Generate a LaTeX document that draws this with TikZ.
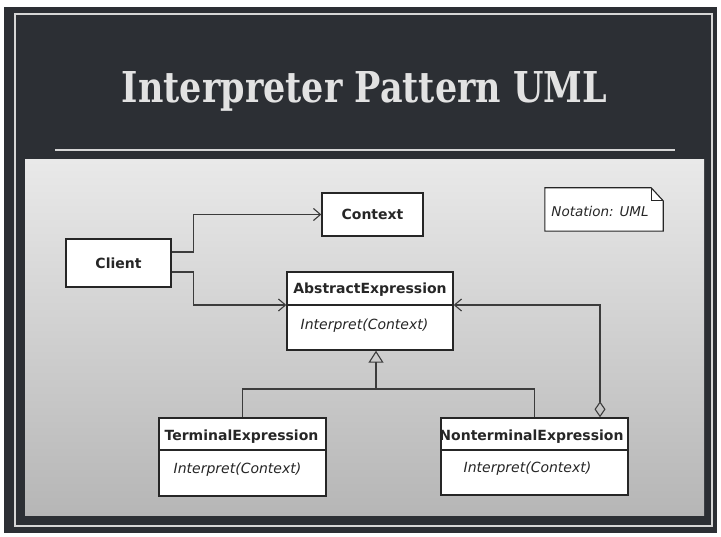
\documentclass[tikz,border=0pt]{standalone}
\usepackage{fontspec}
\setmainfont{DejaVu Sans}
\newfontfamily\titlefont{DejaVu Serif}
\usetikzlibrary{arrows.meta}
\definecolor{darkbg}{HTML}{2C2F34}
\definecolor{framec}{HTML}{D6D6D6}
\definecolor{panelTop}{HTML}{E9E9E9}
\definecolor{panelBot}{HTML}{B6B6B6}
\definecolor{inkc}{HTML}{262626}
\begin{document}
\begin{tikzpicture}[x=1pt,y=-1pt,
  cls/.style={draw=inkc, line width=1.4pt, fill=white, inner sep=0pt},
  lbl/.style={font=\fontsize{14}{16}\selectfont\bfseries, text=inkc, inner sep=0pt},
  meth/.style={font=\fontsize{14}{16}\selectfont\itshape, text=inkc, inner sep=0pt},
  conn/.style={draw=inkc!90, line width=1.1pt},
  assoc/.style={conn, -{Straight Barb[length=7pt,width=12pt]}},
  gen/.style={conn, -{Triangle[open,length=12pt,width=15pt]}},
  agg/.style={conn, {Diamond[open,length=16pt,width=11pt]}-{Straight Barb[length=7pt,width=12pt]}}]
\useasboundingbox (0,0) rectangle (721,537);
\fill[white] (0,0) rectangle (721,537);
\fill[darkbg] (4,7) rectangle (717,533);
\draw[framec, line width=1.2pt] (15,14) rectangle (712,526);
\node[anchor=base, text=framec!70!white, inner sep=0pt] (title) at (364.5,103)
  {\resizebox{485pt}{31pt}{\titlefont\bfseries Interpreter Pattern UML}};
\draw[framec, line width=1.8pt] (55,150) -- (675,150);
\shade[top color=panelTop, bottom color=panelBot] (25,160) rectangle (704,515);

% classes
\node[cls, minimum width=105pt, minimum height=48pt] (client) at (118.5,263) {};
\node[lbl] (clientT) at (client.center) {Client};
\node[cls, minimum width=101pt, minimum height=43pt] (context) at (372.5,214.5) {};
\node[lbl] (contextT) at (context.center) {Context};

\node[cls, minimum width=166pt, minimum height=78pt] (abs) at (370,311) {};
\coordinate (abssep) at (370,305);
\draw[inkc, line width=1.1pt] (abs.west |- abssep) -- (abs.east |- abssep);
\node[lbl] (absT) at (370,290) {AbstractExpression};
\node[meth] (absM) at (364.5,326) {Interpret(Context)};

\node[cls, minimum width=167pt, minimum height=78pt] (term) at (242.5,457) {};
\coordinate (termsep) at (242.5,450);
\draw[inkc, line width=1.1pt] (term.west |- termsep) -- (term.east |- termsep);
\node[lbl] (termT) at (241.5,437) {TerminalExpression};
\node[meth] (termM) at (237.5,470) {Interpret(Context)};

\node[cls, minimum width=187pt, minimum height=77pt] (nonterm) at (534.5,456.5) {};
\coordinate (ntsep) at (534.5,450);
\draw[inkc, line width=1.1pt] (nonterm.west |- ntsep) -- (nonterm.east |- ntsep);
\node[lbl] (nontermT) at (531.5,437) {NonterminalExpression};
\node[meth] (nontermM) at (527.5,469) {Interpret(Context)};

% note
\node[minimum width=118pt, minimum height=43pt, inner sep=0pt] (note) at (604,209.5) {};
\draw[inkc, line width=1.1pt, fill=white]
  (note.south west) -- (note.north west) -- ([xshift=-12pt]note.north east)
  -- ([yshift=-13pt]note.north east) -- (note.south east) -- cycle;
\draw[inkc, line width=0.8pt] ([xshift=-12pt]note.north east) -- ([xshift=-12pt,yshift=-13pt]note.north east) -- ([yshift=-13pt]note.north east);
\node[meth, font=\fontsize{13.5}{15}\selectfont\itshape] (noteT) at (600,211) {Notation: UML};

% connectors
\draw[assoc] ([yshift=11pt]client.east) -- ++(22,0) |- (context.west);
\draw[assoc] ([yshift=-9pt]client.east) -- ++(22,0) |- (abs.west |- abssep);
\coordinate (junc) at (376,389);
\draw[conn] (term.north) |- (junc) -| (nonterm.north);
\draw[gen] (junc) -- (abs.south -| junc);
\draw[agg] ([xshift=65.5pt]nonterm.north) |- (abs.east |- abssep);
\end{tikzpicture}
\end{document}
